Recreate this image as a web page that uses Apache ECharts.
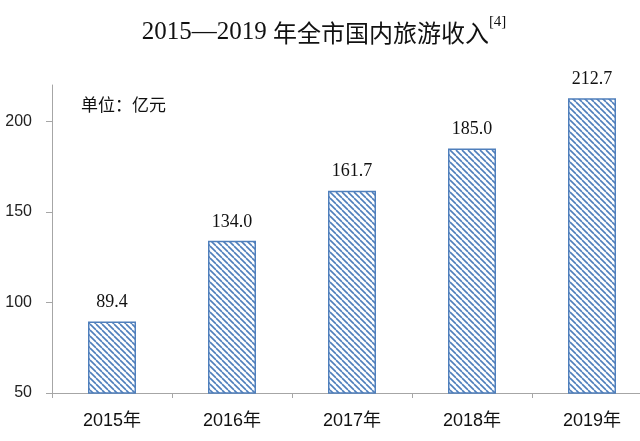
<!DOCTYPE html>
<html><head><meta charset="utf-8">
<script src="https://cdn.jsdelivr.net/npm/echarts@6/dist/echarts.min.js"></script>
<style>html,body{margin:0;padding:0;background:#fff;overflow:hidden}#c{width:660px;height:441px}</style>
</head><body><div id="c"></div>
<script>
const categories = ['2015年','2016年','2017年','2018年','2019年'];
const values = [89.4, 134.0, 161.7, 185.0, 212.7];
const yTicks = [50, 100, 150, 200];

function hatch(){
  const s = 6;
  const cv = document.createElement('canvas');
  cv.width = s; cv.height = s;
  const g = cv.getContext('2d');
  g.fillStyle = '#ffffff'; g.fillRect(0,0,s,s);
  g.strokeStyle = '#4f7fbc'; g.lineWidth = 1.6;
  for (const o of [-s, 0, s]) { g.beginPath(); g.moveTo(o,0); g.lineTo(o+s,s); g.stroke(); }
  return cv;
}
const chart = echarts.init(document.getElementById('c'));
chart.setOption({
  animation:false,
  title:{
    text:'{d|2015—2019 }{c|年全市国内旅游收入}{s|[4]}', left:319, textAlign:'center', top:10,
    textStyle:{fontWeight:'normal', rich:{
      d:{fontFamily:'Liberation Serif', fontSize:25, fontWeight:'normal', color:'#111', verticalAlign:'bottom', lineHeight:30},
      c:{fontFamily:'Noto Sans CJK SC', fontSize:24, fontWeight:'normal', color:'#111', verticalAlign:'bottom', lineHeight:30},
      s:{fontFamily:'Liberation Serif', fontSize:15, fontWeight:'normal', color:'#111', verticalAlign:'top', lineHeight:30, padding:[0,0,13,0]}
    }}
  },
  graphic:[{type:'text', left:81, top:96, style:{text:'单位：亿元', font:'17px "Noto Sans CJK SC"', fill:'#111'}}],
  grid:{left:52, width:600, top:85, bottom:48, containLabel:false},
  xAxis:{type:'category', data:categories,
    axisLine:{lineStyle:{color:'#a6a6a6'}},
    axisTick:{show:true, length:5, alignWithLabel:false, lineStyle:{color:'#a6a6a6'}},
    axisLabel:{fontFamily:'Liberation Sans, Noto Sans CJK SC', fontSize:18, color:'#111', margin:19}
  },
  yAxis:{type:'value', min:50, max:220, interval:50,
    axisLine:{show:true, lineStyle:{color:'#a6a6a6'}},
    axisTick:{show:true, length:6, lineStyle:{color:'#a6a6a6'}},
    splitLine:{show:false},
    axisLabel:{fontFamily:'Liberation Sans', fontSize:16, color:'#222', margin:20, showMaxLabel:false,
      formatter:v=> yTicks.includes(v)? String(v):''}
  },
  series:[{type:'bar', data:values, barWidth:'40%',
    itemStyle:{color:{image:hatch(), repeat:'repeat'}, borderColor:'#4f7fbc', borderWidth:1.5},
    label:{show:true, position:'top', distance:10, fontFamily:'Liberation Serif', fontSize:18, color:'#111',
      formatter:p=>p.value.toFixed(1)}
  }]
});
</script></body></html>
